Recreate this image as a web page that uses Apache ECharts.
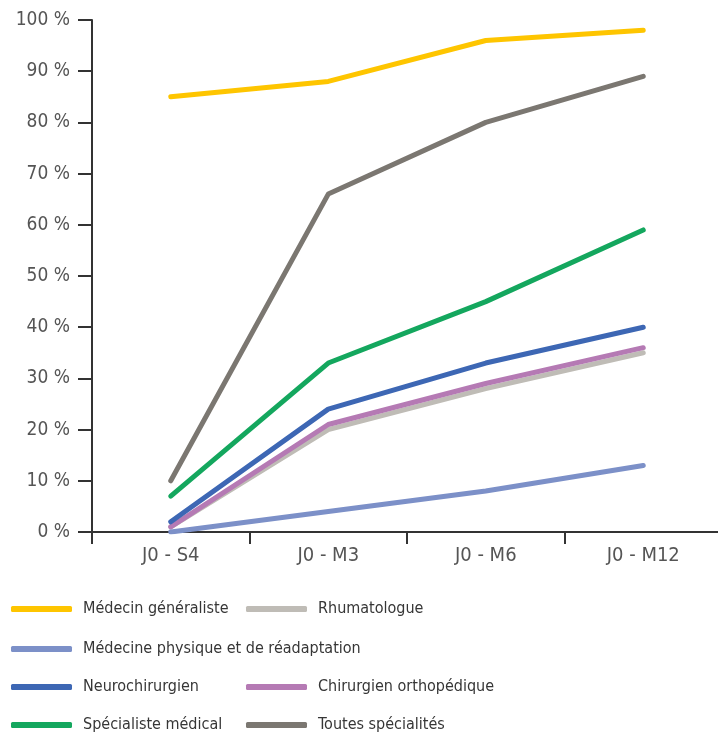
<!DOCTYPE html>
<html>
<head>
<meta charset="utf-8">
<script src="https://cdn.jsdelivr.net/npm/echarts@6/dist/echarts.min.js"></script>
<style>
  html, body { margin: 0; padding: 0; background: #fff; overflow: hidden; }
  #chart { width: 722px; height: 740px; }
</style>
</head>
<body>
<div id="chart"></div>
<script>
// Time points after J0
var categories = ['J0 - S4', 'J0 - M3', 'J0 - M6', 'J0 - M12'];

// Share (%) per specialty at each time point
var medecinGeneraliste = [85, 88, 96, 98];
var rhumatologue = [1, 20, 28, 35];
var medecinePhysique = [0, 4, 8, 13];
var neurochirurgien = [2, 24, 33, 40];
var chirurgienOrtho = [1, 21, 29, 36];
var specialisteMedical = [7, 33, 45, 59];
var toutesSpecialites = [10, 66, 80, 89];

var yTicks = [0, 10, 20, 30, 40, 50, 60, 70, 80, 90, 100];

var FONT = '"DejaVu Sans Condensed", "Liberation Sans Narrow", "Roboto", sans-serif';

var seriesDefs = [
  { name: 'Rhumatologue', data: rhumatologue, color: '#bfbcb6' },
  { name: 'Chirurgien orthopédique', data: chirurgienOrtho, color: '#b57ab4' },
  { name: 'Médecine physique et de réadaptation', data: medecinePhysique, color: '#7c90c8' },
  { name: 'Neurochirurgien', data: neurochirurgien, color: '#3d67b4' },
  { name: 'Spécialiste médical', data: specialisteMedical, color: '#14a75e' },
  { name: 'Toutes spécialités', data: toutesSpecialites, color: '#7b7771' },
  { name: 'Médecin généraliste', data: medecinGeneraliste, color: '#fec500' }
];

// Legend layout: two columns, four rows
var legendSlots = [
  { name: 'Médecin généraliste', left: 11, top: 601 },
  { name: 'Rhumatologue', left: 246, top: 601 },
  { name: 'Médecine physique et de réadaptation', left: 11, top: 641 },
  { name: 'Neurochirurgien', left: 11, top: 679 },
  { name: 'Chirurgien orthopédique', left: 246, top: 679 },
  { name: 'Spécialiste médical', left: 11, top: 717 },
  { name: 'Toutes spécialités', left: 246, top: 717 }
];

var chart = echarts.init(document.getElementById('chart'), null, { renderer: 'canvas' });

chart.setOption({
  animation: false,
  backgroundColor: '#ffffff',
  textStyle: { fontFamily: FONT },
  grid: { left: 92, right: 0, top: 20, bottom: 208, containLabel: false },
  legend: legendSlots.map(function (s) {
    return {
      data: [s.name],
      left: s.left,
      top: s.top,
      icon: 'roundRect',
      itemWidth: 61,
      itemHeight: 6,
      itemGap: 0,
      padding: 0,
      selectedMode: false,
      textStyle: { fontFamily: FONT, fontSize: 16, color: '#363636', padding: [0, 0, 0, 6] }
    };
  }),
  xAxis: {
    type: 'category',
    data: categories,
    boundaryGap: true,
    axisLine: { lineStyle: { color: '#333', width: 2 } },
    axisTick: { show: true, length: 12, lineStyle: { color: '#333', width: 2 } },
    axisLabel: { fontFamily: FONT, fontSize: 20, color: '#555', margin: 14 },
    splitLine: { show: false }
  },
  yAxis: {
    type: 'value',
    min: 0,
    max: 100,
    interval: 10,
    axisLine: { show: true, lineStyle: { color: '#333', width: 2 } },
    axisTick: { show: true, length: 14, lineStyle: { color: '#333', width: 2 } },
    axisLabel: {
      fontFamily: FONT, fontSize: 19, color: '#555', margin: 22,
      formatter: function (v) { return yTicks.indexOf(v) >= 0 ? v + ' %' : ''; }
    },
    splitLine: { show: false }
  },
  series: seriesDefs.map(function (s) {
    return {
      name: s.name,
      type: 'line',
      data: s.data,
      symbol: 'none',
      color: s.color,
      lineStyle: { color: s.color, width: 5, cap: 'round', join: 'round' },
      itemStyle: { color: s.color }
    };
  })
});
</script>
</body>
</html>
